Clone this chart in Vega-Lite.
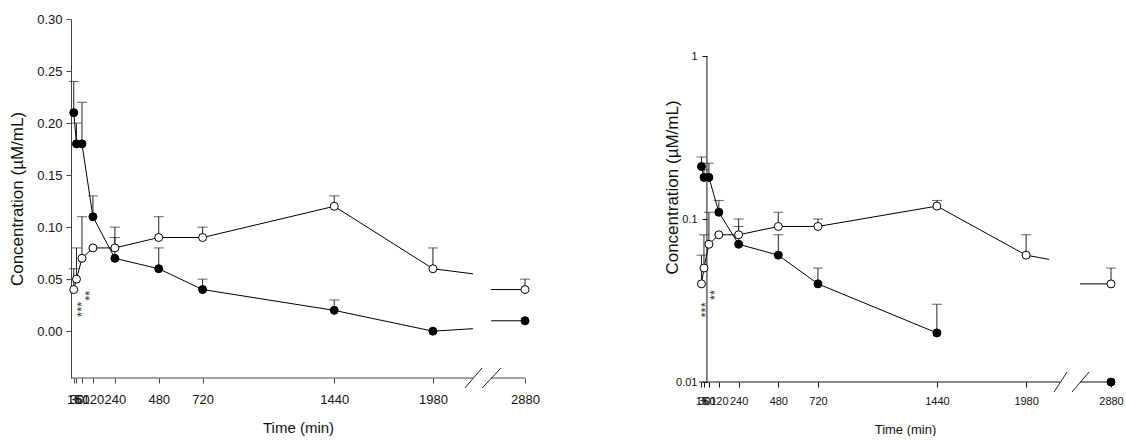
{
  "$schema": "https://vega.github.io/schema/vega-lite/v6.json",
  "padding": {"left": 8, "top": 13, "right": 0, "bottom": 0},
  "spacing": 123,
  "config": {
    "view": {"stroke": null},
    "font": "Liberation Sans",
    "axis": {"labelColor": "#111", "titleColor": "#111", "titleFontWeight": "normal", "labelFont": "Liberation Sans", "titleFont": "Liberation Sans"}
  },
  "datasets": {
    "pts": [
      {"s": "filled", "t": 15, "v": 0.21, "u": 0.24},
      {"s": "filled", "t": 30, "v": 0.18, "u": 0.20},
      {"s": "filled", "t": 60, "v": 0.18, "u": 0.22},
      {"s": "filled", "t": 120, "v": 0.11, "u": 0.13},
      {"s": "filled", "t": 240, "v": 0.07, "u": 0.09},
      {"s": "filled", "t": 480, "v": 0.06, "u": 0.08},
      {"s": "filled", "t": 720, "v": 0.04, "u": 0.05},
      {"s": "filled", "t": 1440, "v": 0.02, "u": 0.03},
      {"s": "filled", "t": 1980, "v": 0.0, "u": null},
      {"s": "filled", "t": 2880, "v": 0.01, "u": null},
      {"s": "open", "t": 15, "v": 0.04, "u": 0.06},
      {"s": "open", "t": 30, "v": 0.05, "u": 0.08},
      {"s": "open", "t": 60, "v": 0.07, "u": 0.11},
      {"s": "open", "t": 120, "v": 0.08, "u": null},
      {"s": "open", "t": 240, "v": 0.08, "u": 0.10},
      {"s": "open", "t": 480, "v": 0.09, "u": 0.11},
      {"s": "open", "t": 720, "v": 0.09, "u": 0.10},
      {"s": "open", "t": 1440, "v": 0.12, "u": 0.13},
      {"s": "open", "t": 1980, "v": 0.06, "u": 0.08},
      {"s": "open", "t": 2880, "v": 0.04, "u": 0.05}
    ],
    "lnL": [
      {"g": "f1", "t": 15, "v": 0.21}, {"g": "f1", "t": 30, "v": 0.18}, {"g": "f1", "t": 60, "v": 0.18},
      {"g": "f1", "t": 120, "v": 0.11}, {"g": "f1", "t": 240, "v": 0.07}, {"g": "f1", "t": 480, "v": 0.06},
      {"g": "f1", "t": 720, "v": 0.04}, {"g": "f1", "t": 1440, "v": 0.02}, {"g": "f1", "t": 1980, "v": 0.0},
      {"g": "f1", "t": 2199, "v": 0.0024},
      {"g": "f2", "t": 2298, "v": 0.01}, {"g": "f2", "t": 2880, "v": 0.01},
      {"g": "o1", "t": 15, "v": 0.04}, {"g": "o1", "t": 30, "v": 0.05}, {"g": "o1", "t": 60, "v": 0.07},
      {"g": "o1", "t": 120, "v": 0.08}, {"g": "o1", "t": 240, "v": 0.08}, {"g": "o1", "t": 480, "v": 0.09},
      {"g": "o1", "t": 720, "v": 0.09}, {"g": "o1", "t": 1440, "v": 0.12}, {"g": "o1", "t": 1980, "v": 0.06},
      {"g": "o1", "t": 2199, "v": 0.0551},
      {"g": "o2", "t": 2298, "v": 0.04}, {"g": "o2", "t": 2880, "v": 0.04}
    ],
    "lnR": [
      {"g": "f1", "t": 15, "v": 0.21}, {"g": "f1", "t": 30, "v": 0.18}, {"g": "f1", "t": 60, "v": 0.18},
      {"g": "f1", "t": 120, "v": 0.11}, {"g": "f1", "t": 240, "v": 0.07}, {"g": "f1", "t": 480, "v": 0.06},
      {"g": "f1", "t": 720, "v": 0.04}, {"g": "f1", "t": 1440, "v": 0.02},
      {"g": "o1", "t": 15, "v": 0.04}, {"g": "o1", "t": 30, "v": 0.05}, {"g": "o1", "t": 60, "v": 0.07},
      {"g": "o1", "t": 120, "v": 0.08}, {"g": "o1", "t": 240, "v": 0.08}, {"g": "o1", "t": 480, "v": 0.09},
      {"g": "o1", "t": 720, "v": 0.09}, {"g": "o1", "t": 1440, "v": 0.12}, {"g": "o1", "t": 1980, "v": 0.06},
      {"g": "o1", "t": 2120, "v": 0.0565},
      {"g": "o2", "t": 2306, "v": 0.04}, {"g": "o2", "t": 2880, "v": 0.04}
    ],
    "axL": [{"t": 0, "t2": 2199, "v": -0.045}, {"t": 2298, "t2": 2880, "v": -0.045}],
    "slL": [{"t": 2155, "t2": 2248, "v": -0.0546, "v2": -0.0354}, {"t": 2250, "t2": 2352, "v": -0.0546, "v2": -0.0354}],
    "axR": [{"t": 0, "t2": 2185, "v": 0.01}, {"t": 2306, "t2": 2880, "v": 0.01}],
    "yaxR": [{"t": 48, "v": 0.01, "v2": 1}],
    "slR": [{"t": 2149, "t2": 2228, "v": 0.00868, "v2": 0.01152}, {"t": 2258, "t2": 2361, "v": 0.00868, "v2": 0.01152}],
    "astL": [{"t": 58, "v": 0.021, "lab": "***"}, {"t": 102, "v": 0.034, "lab": "**"}],
    "astR": [{"t": 40, "v": 0.0277, "lab": "***"}, {"t": 95, "v": 0.0342, "lab": "**"}]
  },
  "hconcat": [
    {
      "width": 454,
      "height": 359,
      "encoding": {
        "x": {"field": "t", "type": "quantitative", "title": "Time (min)",
          "scale": {"domain": [0, 2360, 2880], "range": [0, 431.4, 454], "nice": false, "zero": false},
          "axis": {"values": [15, 30, 60, 120, 240, 480, 720, 1440, 1980, 2880], "format": "d", "grid": false, "domain": false,
            "tickColor": "#444", "tickSize": 5, "labelFontSize": 13, "labelPadding": 10, "labelFlush": false, "labelOverlap": false,
            "titleFontSize": 15, "titleY": 49, "titleBaseline": "middle"}},
        "y": {"field": "v", "type": "quantitative", "title": "Concentration (µM/mL)",
          "scale": {"domain": [-0.045, 0.3], "nice": false, "zero": false},
          "axis": {"values": [0, 0.05, 0.1, 0.15, 0.2, 0.25, 0.3], "format": ".2f", "grid": false, "domainColor": "#444",
            "tickColor": "#444", "tickSize": 5, "labelFontSize": 13, "labelPadding": 4, "titleFontSize": 17,
            "titleX": -45, "titleY": 179.5, "titleAngle": 270, "titleBaseline": "bottom", "titleAlign": "center"}}
      },
      "layer": [
        {"data": {"name": "axL"}, "mark": {"type": "rule", "color": "#444", "strokeWidth": 1}, "encoding": {"x2": {"field": "t2"}}},
        {"data": {"name": "slL"}, "mark": {"type": "rule", "color": "#222", "strokeWidth": 1}, "encoding": {"x2": {"field": "t2"}, "y2": {"field": "v2"}}},
        {"data": {"name": "lnL"}, "mark": {"type": "line", "color": "#000", "strokeWidth": 1}, "encoding": {"detail": {"field": "g"}}},
        {"data": {"name": "pts"}, "transform": [{"filter": {"field": "u", "valid": true}}], "mark": {"type": "rule", "color": "#222", "strokeWidth": 1}, "encoding": {"y2": {"field": "u"}}},
        {"data": {"name": "pts"}, "transform": [{"filter": {"field": "u", "valid": true}}], "mark": {"type": "tick", "orient": "horizontal", "size": 10, "thickness": 1, "color": "#222"},
          "encoding": {"y": {"field": "u", "type": "quantitative", "title": "Concentration (µM/mL)", "scale": {"domain": [-0.045, 0.3], "nice": false, "zero": false}}}},
        {"data": {"name": "pts"}, "mark": {"type": "point", "shape": "circle", "filled": true, "stroke": "#000", "strokeWidth": 1, "size": 64, "opacity": 1},
          "encoding": {"fill": {"field": "s", "type": "nominal", "scale": {"domain": ["filled", "open"], "range": ["#000", "#fff"]}, "legend": null}}},
        {"data": {"name": "astL"}, "mark": {"type": "text", "angle": 270, "fontSize": 13, "align": "center", "baseline": "middle", "color": "#333"}, "encoding": {"text": {"field": "lab"}}}
      ]
    },
    {
      "width": 412,
      "height": 363,
      "encoding": {
        "x": {"field": "t", "type": "quantitative", "title": "Time (min)",
          "scale": {"domain": [0, 2400, 2880], "range": [0, 396.5, 412], "nice": false, "zero": false},
          "axis": {"values": [15, 30, 60, 120, 240, 480, 720, 1440, 1980, 2880], "format": "d", "grid": false, "domain": false,
            "tickColor": "#111", "tickSize": 5, "labelFontSize": 11, "labelPadding": 8, "labelFlush": false, "labelOverlap": false,
            "titleFontSize": 13, "titleY": 47, "titleBaseline": "middle"}},
        "y": {"field": "v", "type": "quantitative", "title": "Concentration (µM/mL)",
          "scale": {"type": "log", "domain": [0.01, 1.687], "nice": false},
          "axis": {"values": [0.01, 0.1, 1], "format": "~g", "grid": false, "domain": false, "offset": -8,
            "tickColor": "#111", "tickSize": 5, "labelFontSize": 11, "labelPadding": 5, "labelOverlap": false, "titleFontSize": 17,
            "titleX": -26, "titleY": 168, "titleAngle": 270, "titleBaseline": "bottom", "titleAlign": "center"}}
      },
      "layer": [
        {"data": {"name": "axR"}, "mark": {"type": "rule", "color": "#111", "strokeWidth": 1}, "encoding": {"x2": {"field": "t2"}}},
        {"data": {"name": "yaxR"}, "mark": {"type": "rule", "color": "#111", "strokeWidth": 1}, "encoding": {"y2": {"field": "v2"}}},
        {"data": {"name": "slR"}, "mark": {"type": "rule", "color": "#222", "strokeWidth": 1}, "encoding": {"x2": {"field": "t2"}, "y2": {"field": "v2"}}},
        {"data": {"name": "lnR"}, "mark": {"type": "line", "color": "#000", "strokeWidth": 1}, "encoding": {"detail": {"field": "g"}}},
        {"data": {"name": "pts"}, "transform": [{"filter": {"field": "u", "valid": true}}], "mark": {"type": "rule", "color": "#222", "strokeWidth": 1}, "encoding": {"y2": {"field": "u"}}},
        {"data": {"name": "pts"}, "transform": [{"filter": {"field": "u", "valid": true}}], "mark": {"type": "tick", "orient": "horizontal", "size": 10, "thickness": 1, "color": "#222"},
          "encoding": {"y": {"field": "u", "type": "quantitative", "title": "Concentration (µM/mL)", "scale": {"type": "log", "domain": [0.01, 1.687], "nice": false}}}},
        {"data": {"name": "pts"}, "transform": [{"filter": "datum.v > 0"}], "mark": {"type": "point", "shape": "circle", "filled": true, "stroke": "#000", "strokeWidth": 1, "size": 64, "opacity": 1},
          "encoding": {"fill": {"field": "s", "type": "nominal", "scale": {"domain": ["filled", "open"], "range": ["#000", "#fff"]}, "legend": null}}},
        {"data": {"name": "astR"}, "mark": {"type": "text", "angle": 270, "fontSize": 13, "align": "center", "baseline": "middle", "color": "#333"}, "encoding": {"text": {"field": "lab"}}}
      ]
    }
  ]
}
